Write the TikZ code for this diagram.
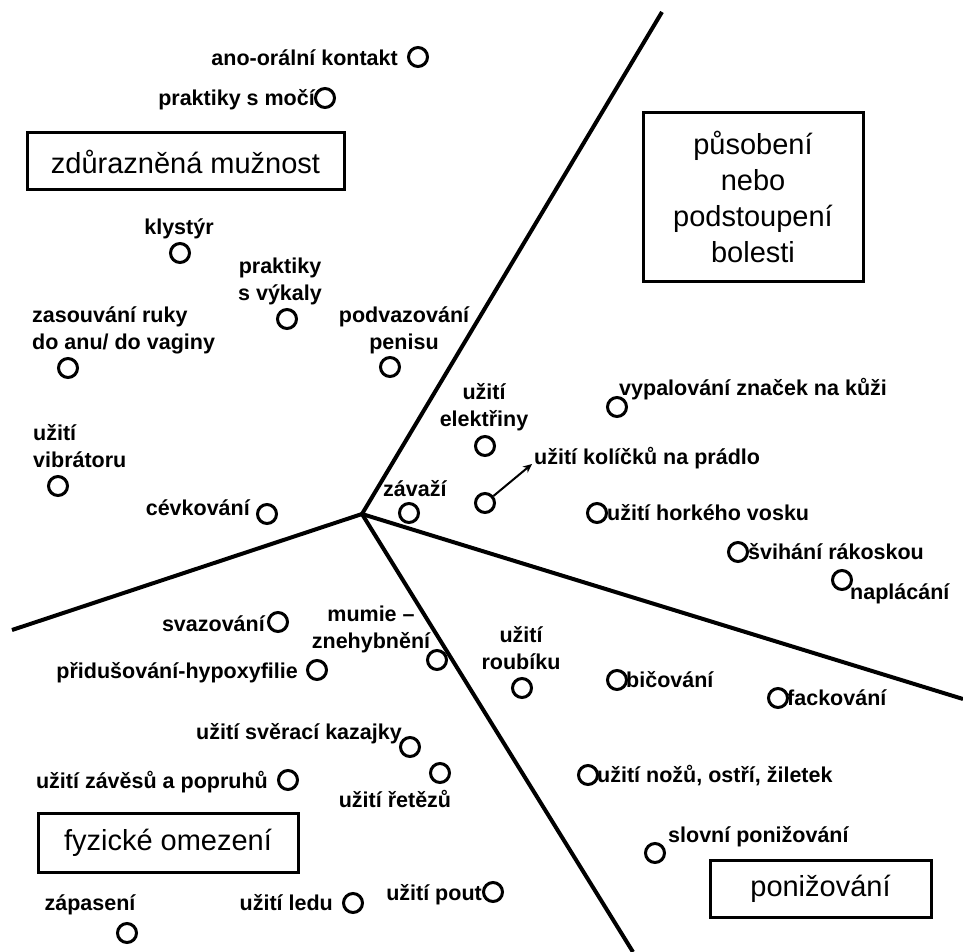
\documentclass[tikz,border=0pt]{standalone}
\usepackage{fontspec}
\setmainfont{Liberation Sans}
\usetikzlibrary{arrows.meta}
\begin{document}
\begin{tikzpicture}[x=1pt,y=-1pt,
 dot/.style={circle,draw,line width=3pt,minimum size=19pt,inner sep=0pt},
 lbl/.style={font=\fontsize{21.5}{27}\selectfont\bfseries,inner sep=0pt,yshift=-3pt},
 lb/.style={lbl,yshift=-2pt},
 cat/.style={draw,line width=3pt,font=\fontsize{29}{36}\selectfont,inner sep=0pt,align=center},
 axisline/.style={line width=4pt}]
\useasboundingbox[fill=white] (0,0) rectangle (963,952);
% axes
\coordinate (c) at (362,514);
\coordinate (eN) at (662,12);
\coordinate (eW) at (12,630);
\coordinate (eS) at (633,952);
\coordinate (eE) at (963,699);
\draw[axisline] (c) -- (eN);
\draw[axisline] (c) -- (eW);
\draw[axisline] (c) -- (eS);
\draw[axisline] (c) -- (eE);
% category boxes
\node[cat,minimum width=317pt,minimum height=57pt] (bM) at (185.5,161.5) {zdůrazněná mužnost};
\node[cat,minimum width=220pt,minimum height=168pt] (bB) at (753,197) {působení\\nebo\\podstoupení\\bolesti};
\node[cat,minimum width=260pt,minimum height=59pt] (bF) at (168,842.5) {fyzické omezení};
\node[cat,minimum width=221pt,minimum height=57pt] (bP) at (820.5,888.5) {ponižování};
% items
\node[dot] (d1) at (418,57) {};
\node[lb,anchor=mid east] (t1) at (398,58) {ano-orální kontakt};
\node[dot] (d2) at (325,98) {};
\node[lb,anchor=mid east] (t2) at (315,98) {praktiky s močí};
\node[dot] (d3) at (180,253) {};
\node[lb,anchor=mid] (t3) at (179,227) {klystýr};
\node[dot] (d4) at (287,319) {};
\node[lbl,align=center] (t4) at (280,278) {praktiky\\s výkaly};
\node[dot] (d5) at (68,368) {};
\node[lbl,align=left,anchor=west] (t5) at (32,327) {zasouvání ruky\\do anu/ do vaginy};
\node[dot] (d6) at (390,367) {};
\node[lbl,align=center] (t6) at (404,327) {podvazování\\penisu};
\node[dot] (d7) at (58,486) {};
\node[lbl,align=left,anchor=west] (t7) at (33,443) {užití\\vibrátoru};
\node[dot] (d8) at (267,514) {};
\node[lb,anchor=mid east] (t8) at (250,508) {cévkování};
\node[dot] (d9) at (409,513) {};
\node[lb,anchor=mid west] (t9) at (383,489) {závaží};
\node[dot] (d10) at (485,446) {};
\node[lbl,align=center] (t10) at (484,404) {užití\\elektřiny};
\node[dot] (d11) at (485,503) {};
\coordinate (a11) at (532,464);
\draw[line width=2pt,-{Stealth[length=9pt,width=8pt]}] (d11) -- (a11);
\node[lb,anchor=mid west] (t11) at (534,457) {užití kolíčků na prádlo};
\node[dot] (d12) at (617,407) {};
\node[lb,anchor=mid west] (t12) at (619,388) {vypalování značek na kůži};
\node[dot] (d13) at (597,513) {};
\node[lb,anchor=mid west] (t13) at (607,513) {užití horkého vosku};
\node[dot] (d14) at (738,552) {};
\node[lb,anchor=mid west] (t14) at (748,552) {švihání rákoskou};
\node[dot] (d15) at (842,580) {};
\node[lb,anchor=mid west] (t15) at (850,592) {naplácání};
\node[dot] (d16) at (278,622) {};
\node[lb,anchor=mid east] (t16) at (265,624) {svazování};
\node[dot] (d17) at (437,660) {};
\node[lbl,align=center] (t17) at (371,626) {mumie –\\znehybnění};
\node[dot] (d18) at (317,670) {};
\node[lb,anchor=mid east] (t18) at (298,671) {přidušování-hypoxyfilie};
\node[dot] (d19) at (522,688) {};
\node[lbl,align=center] (t19) at (521,645) {užití\\roubíku};
\node[dot] (d20) at (617,680) {};
\node[lb,anchor=mid west] (t20) at (626,680) {bičování};
\node[dot] (d21) at (778,698) {};
\node[lb,anchor=mid west] (t21) at (787,698) {fackování};
\node[dot] (d22) at (410,747) {};
\node[lb,anchor=mid east] (t22) at (402,732) {užití svěrací kazajky};
\node[dot] (d23) at (288,780) {};
\node[lb,anchor=mid east] (t23) at (268,781) {užití závěsů a popruhů};
\node[dot] (d24) at (440,773) {};
\node[lb,anchor=mid] (t24) at (395,800) {užití řetězů};
\node[dot] (d25) at (127,933) {};
\node[lb,anchor=mid] (t25) at (90,903) {zápasení};
\node[dot] (d26) at (353,903) {};
\node[lb,anchor=mid east] (t26) at (333,903) {užití ledu};
\node[dot] (d27) at (493,892) {};
\node[lb,anchor=mid east] (t27) at (482,893) {užití pout};
\node[dot] (d28) at (588,775) {};
\node[lb,anchor=mid west] (t28) at (597,775) {užití nožů, ostří, žiletek};
\node[dot] (d29) at (655,853) {};
\node[lb,anchor=mid west] (t29) at (668,835) {slovní ponižování};
\end{tikzpicture}
\end{document}
